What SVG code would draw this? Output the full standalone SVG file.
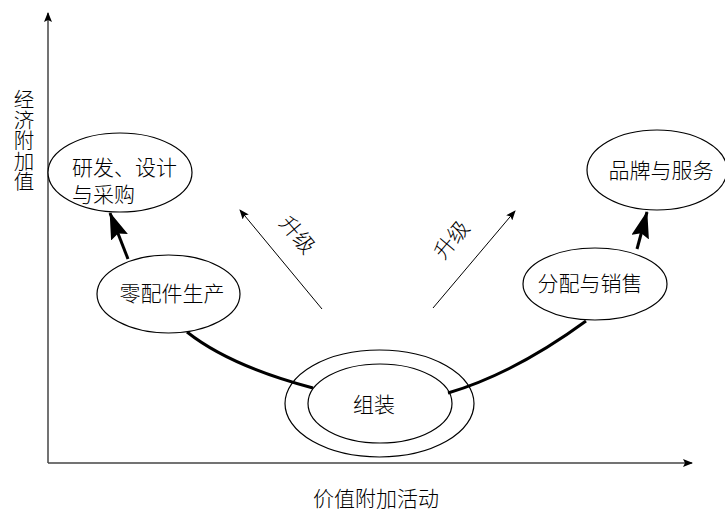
<svg xmlns="http://www.w3.org/2000/svg" width="725" height="514" viewBox="0 0 725 514">
<style>
text{font-family:"Liberation Serif","Noto Sans CJK SC",serif;font-size:21px;font-weight:300;fill:#000}
.n{fill:#fff;stroke:#000;stroke-width:1.2}
.axis{stroke:#444;stroke-width:1.5;fill:none}
.thin{stroke:#000;stroke-width:1;fill:none}
.thick{stroke:#000;stroke-width:3;fill:none}
</style>
<defs>
<marker id="ah" markerUnits="userSpaceOnUse" markerWidth="10" markerHeight="8" refX="9" refY="4" orient="auto"><path d="M0,0 L10,4 L0,8 L2,4 Z" fill="#000"/></marker>
<marker id="big" markerUnits="userSpaceOnUse" markerWidth="27" markerHeight="18" refX="26" refY="9" orient="auto"><path d="M0,0 L27,9 L0,18 L4,9 Z" fill="#000"/></marker>
</defs>
<g id="axes">
<line class="axis" x1="48" y1="463" x2="48" y2="13" marker-end="url(#ah)"/>
<line class="axis" x1="48" y1="463" x2="692" y2="463" marker-end="url(#ah)"/>
<text id="ylabel" x="22" y="89" style="writing-mode:vertical-rl;font-size:20.5px">经济附加值</text>
<text id="xlabel" x="376" y="506" text-anchor="middle">价值附加活动</text>
</g>
<g id="connectors">
<path class="thick" d="M187,332 Q230,366 313,388"/>
<path class="thick" d="M448,393 Q515,373 586,321"/>
<line class="thick" x1="128" y1="259" x2="110" y2="213" marker-end="url(#big)"/>
<line class="thick" x1="637" y1="249" x2="647" y2="212" marker-end="url(#big)"/>
<line class="thin" x1="322" y1="309" x2="240" y2="210" marker-end="url(#ah)"/>
<line class="thin" x1="433" y1="308" x2="515" y2="211" marker-end="url(#ah)"/>
<text x="297" y="242" text-anchor="middle" font-size="19" transform="rotate(50 297 235)">升级</text>
<text x="452" y="247" text-anchor="middle" font-size="19" transform="rotate(-50 452 240)">升级</text>
</g>
<g id="n1">
<ellipse class="n" cx="120" cy="172.5" rx="72" ry="39.5"/>
<text x="72" y="175">研发、设计</text>
<text x="72" y="202">与采购</text>
</g>
<g id="n2">
<ellipse class="n" cx="168.5" cy="294" rx="71.5" ry="39"/>
<text x="172" y="301" text-anchor="middle">零配件生产</text>
</g>
<g id="n3">
<ellipse class="n" cx="379.5" cy="403.5" rx="94.5" ry="53.5" style="fill:none"/>
<ellipse class="n" cx="380" cy="403.5" rx="72" ry="39.5" style="fill:none"/>
<text x="374" y="412" text-anchor="middle">组装</text>
</g>
<g id="n4">
<ellipse class="n" cx="595" cy="284" rx="72" ry="36"/>
<text x="590" y="291" text-anchor="middle">分配与销售</text>
</g>
<g id="n5">
<ellipse class="n" cx="657" cy="170" rx="70" ry="40"/>
<text x="661" y="178" text-anchor="middle">品牌与服务</text>
</g>
</svg>
